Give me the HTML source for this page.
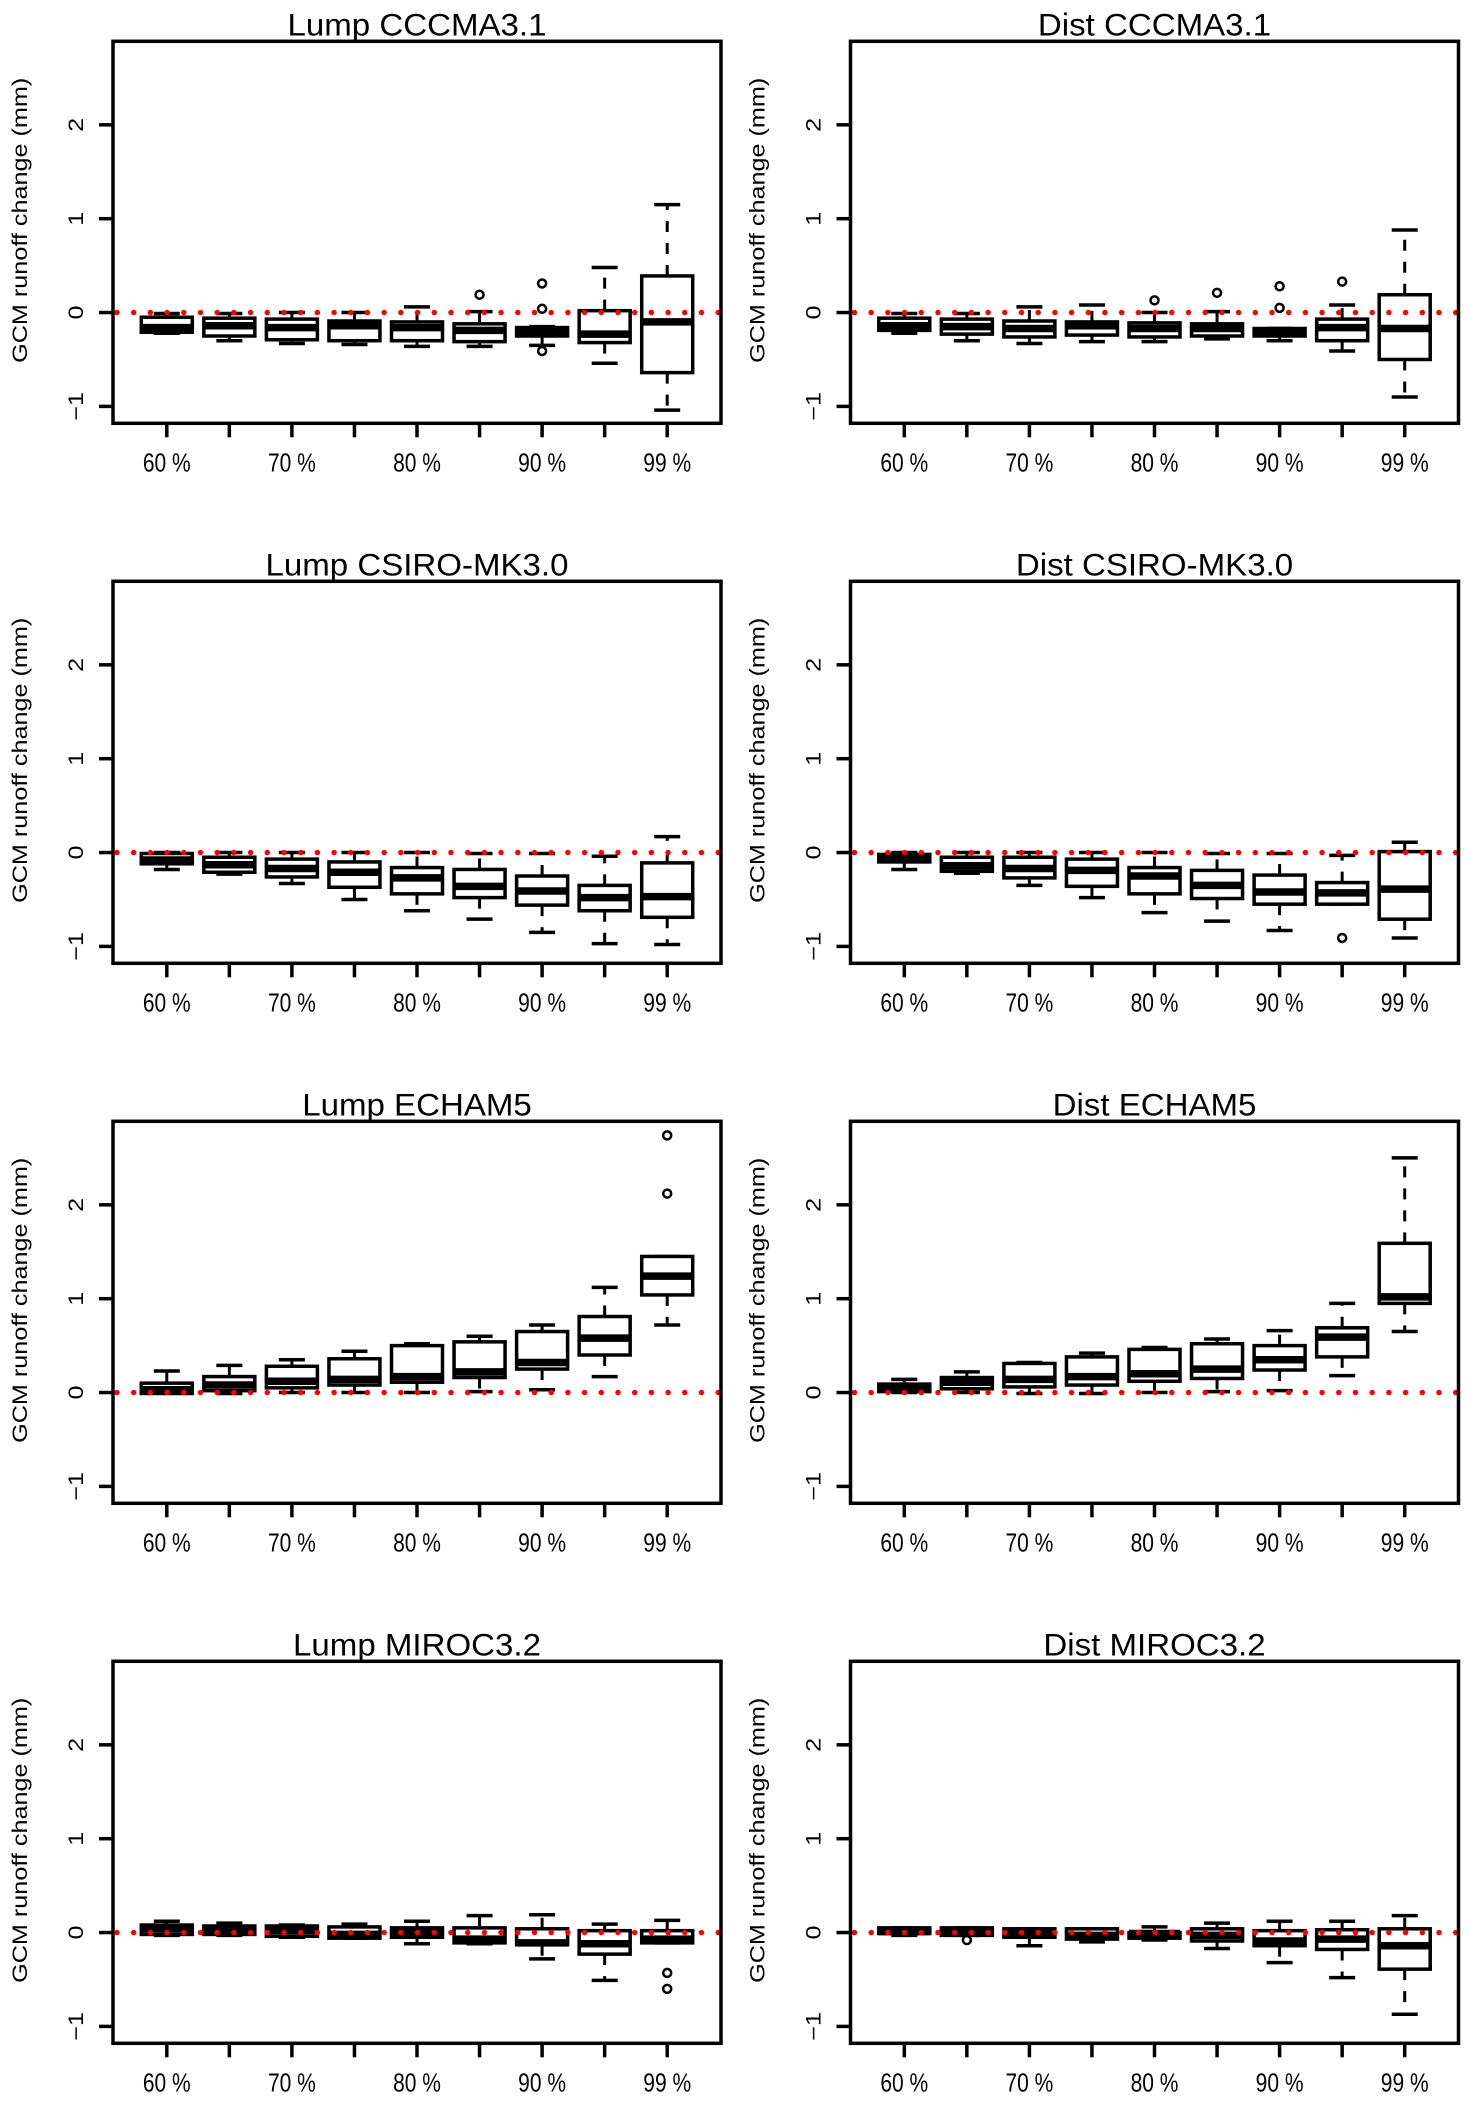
<!DOCTYPE html>
<html><head><meta charset="utf-8"><title>GCM runoff change boxplots</title>
<style>
html,body{margin:0;padding:0;background:#fff;}
svg{display:block;}
text{font-family:"Liberation Sans",Arial,sans-serif;fill:#000;}
</style></head>
<body>
<svg id="chart" xmlns="http://www.w3.org/2000/svg" width="1470" height="2104" viewBox="0 0 1470 2104"></svg>
<script>
const titles = ["Lump CCCMA3.1","Dist CCCMA3.1","Lump CSIRO-MK3.0","Dist CSIRO-MK3.0","Lump ECHAM5","Dist ECHAM5","Lump MIROC3.2","Dist MIROC3.2"];
const categories = [1,2,3,4,5,6,7,8,9];
const tickLabels = ["60 %","","70 %","","80 %","","90 %","","99 %"];
const yTicks = [-1,0,1,2];
const whiskerLow = [
 [-0.22,-0.30,-0.33,-0.34,-0.36,-0.36,-0.35,-0.54,-1.04],
 [-0.22,-0.30,-0.33,-0.31,-0.31,-0.28,-0.30,-0.41,-0.90],
 [-0.18,-0.23,-0.33,-0.50,-0.62,-0.71,-0.85,-0.97,-0.98],
 [-0.18,-0.22,-0.35,-0.48,-0.64,-0.73,-0.83,-0.55,-0.91],
 [0.00,-0.01,0.00,0.00,0.00,0.01,0.03,0.17,0.72],
 [0.00,0.00,-0.01,-0.01,0.00,0.01,0.02,0.18,0.65],
 [-0.03,-0.03,-0.05,-0.06,-0.12,-0.12,-0.28,-0.51,-0.11],
 [-0.03,-0.03,-0.14,-0.10,-0.08,-0.17,-0.32,-0.48,-0.87]
];
const boxQ1 = [
 [-0.21,-0.25,-0.29,-0.30,-0.30,-0.31,-0.25,-0.32,-0.64],
 [-0.19,-0.23,-0.26,-0.24,-0.26,-0.25,-0.25,-0.30,-0.50],
 [-0.12,-0.21,-0.26,-0.37,-0.44,-0.48,-0.56,-0.62,-0.69],
 [-0.10,-0.20,-0.27,-0.36,-0.44,-0.49,-0.55,-0.55,-0.71],
 [-0.01,0.02,0.05,0.08,0.11,0.16,0.25,0.40,1.04],
 [0.01,0.04,0.06,0.08,0.12,0.15,0.24,0.38,0.95],
 [-0.02,-0.02,-0.04,-0.06,-0.05,-0.11,-0.13,-0.23,-0.11],
 [-0.01,-0.03,-0.05,-0.07,-0.06,-0.09,-0.14,-0.18,-0.39]
];
const median = [
 [-0.16,-0.14,-0.16,-0.14,-0.16,-0.19,-0.21,-0.23,-0.10],
 [-0.14,-0.15,-0.17,-0.14,-0.17,-0.17,-0.22,-0.16,-0.17],
 [-0.08,-0.13,-0.17,-0.21,-0.27,-0.36,-0.41,-0.48,-0.47],
 [-0.07,-0.14,-0.17,-0.19,-0.25,-0.35,-0.42,-0.43,-0.39],
 [0.03,0.08,0.12,0.14,0.17,0.22,0.32,0.58,1.24],
 [0.05,0.11,0.14,0.17,0.20,0.25,0.35,0.59,1.02],
 [0.04,0.02,0.02,-0.02,0.00,-0.07,-0.11,-0.12,-0.07],
 [0.01,0.00,-0.01,-0.03,-0.01,-0.03,-0.09,-0.07,-0.14]
];
const boxQ3 = [
 [-0.05,-0.06,-0.07,-0.09,-0.10,-0.12,-0.16,0.02,0.39],
 [-0.06,-0.07,-0.09,-0.10,-0.11,-0.12,-0.17,-0.07,0.19],
 [-0.01,-0.05,-0.07,-0.10,-0.16,-0.18,-0.25,-0.35,-0.11],
 [-0.02,-0.05,-0.05,-0.07,-0.16,-0.19,-0.24,-0.32,0.01],
 [0.10,0.17,0.28,0.36,0.50,0.54,0.65,0.81,1.45],
 [0.09,0.16,0.31,0.38,0.46,0.52,0.50,0.69,1.59],
 [0.08,0.07,0.07,0.06,0.05,0.05,0.04,0.02,0.02],
 [0.05,0.05,0.04,0.04,0.00,0.04,0.02,0.03,0.04]
];
const whiskerHigh = [
 [-0.01,-0.01,0.00,0.00,0.06,0.01,-0.15,0.48,1.15],
 [-0.01,-0.01,0.06,0.08,0.00,0.01,-0.17,0.08,0.88],
 [0.00,0.00,0.00,0.00,0.00,-0.01,-0.01,-0.04,0.17],
 [0.00,0.00,0.00,0.00,0.00,-0.01,-0.01,-0.03,0.11],
 [0.23,0.29,0.35,0.44,0.52,0.60,0.72,1.12,1.45],
 [0.14,0.22,0.32,0.42,0.48,0.57,0.66,0.95,2.50],
 [0.12,0.10,0.08,0.09,0.12,0.18,0.19,0.09,0.13],
 [0.05,0.05,0.04,0.04,0.06,0.10,0.12,0.12,0.18]
];
// outliers: [boxIndex, value]
const outliers = [
 [[5,0.19],[6,0.31],[6,0.04],[6,-0.41]],
 [[4,0.13],[5,0.21],[6,0.28],[6,0.05],[7,0.33]],
 [],
 [[7,-0.91]],
 [[8,2.74],[8,2.12]],
 [],
 [[8,-0.43],[8,-0.60]],
 [[1,-0.08]]
];

const NS = "http://www.w3.org/2000/svg";
const svg = document.getElementById("chart");
const PLOT_W = 608, PLOT_H = 382, COL_X = [113, 850.5], ROW_Y = 41.3, ROW_STEP = 540;
const Y_MIN = -1.18, Y_MAX = 2.89, X_MIN = 0.14, X_MAX = 9.86;

function mk(tag, attrs, parent) {
  const e = document.createElementNS(NS, tag);
  for (const k in attrs) e.setAttribute(k, attrs[k]);
  parent.appendChild(e);
  return e;
}

titles.forEach((title, p) => {
  const left = COL_X[p % 2], top = ROW_Y + Math.floor(p / 2) * ROW_STEP;
  const xs = v => left + (v - X_MIN) / (X_MAX - X_MIN) * PLOT_W;
  const ys = v => top + (Y_MAX - v) / (Y_MAX - Y_MIN) * PLOT_H;
  const g = mk("g", {}, svg);
  
  

  const t = mk("text", {transform: `translate(${left + PLOT_W / 2},${top - 6}) scale(1.14,1.1)`, "text-anchor": "middle", "font-size": 29}, g);
  t.textContent = title;
  
  

  const yt = mk("text", {transform: `translate(${left - 86},${top + PLOT_H / 2 - 12}) rotate(-90) scale(1.2,1)`, "text-anchor": "middle", "font-size": 21}, g);
  yt.textContent = "GCM runoff change (mm)";
  
  

  yTicks.forEach(v => {
    const tk = mk("line", {x1: left - 14, x2: left, y1: ys(v), y2: ys(v), stroke: "#000", "stroke-width": 3.5}, g);
    
    
    const lb = mk("text", {transform: `translate(${left - 30},${ys(v)}) rotate(-90) scale(1.2,1)`, "text-anchor": "middle", "font-size": 21}, g);
    lb.textContent = v < 0 ? "\u2212" + Math.abs(v) : String(v);
    
    
  });

  categories.forEach((c, i) => {
    const cx = xs(c);
    const tk = mk("line", {x1: cx, x2: cx, y1: top + PLOT_H, y2: top + PLOT_H + 14, stroke: "#000", "stroke-width": 3.5}, g);
    
    
    if (tickLabels[i]) {
      const lb = mk("text", {transform: `translate(${cx},${top + PLOT_H + 48}) scale(1,1.25)`, "text-anchor": "middle", "font-size": 21}, g);
      lb.textContent = tickLabels[i];
      
      
    }
    const lo = whiskerLow[p][i], q1 = boxQ1[p][i], md = median[p][i], q3 = boxQ3[p][i], hi = whiskerHigh[p][i];
    const bg = mk("g", {}, g);
    
    
    mk("line", {x1: cx, x2: cx, y1: ys(q3), y2: ys(hi), stroke: "#000", "stroke-width": 3, "stroke-dasharray": "11 11"}, bg);
    mk("line", {x1: cx, x2: cx, y1: ys(q1), y2: ys(lo), stroke: "#000", "stroke-width": 3, "stroke-dasharray": "11 11"}, bg);
    mk("line", {x1: cx - 13, x2: cx + 13, y1: ys(hi), y2: ys(hi), stroke: "#000", "stroke-width": 3.5}, bg);
    mk("line", {x1: cx - 13, x2: cx + 13, y1: ys(lo), y2: ys(lo), stroke: "#000", "stroke-width": 3.5}, bg);
    mk("rect", {x: cx - 25.5, y: ys(q3), width: 51, height: Math.max(0.5, ys(q1) - ys(q3)), fill: "#fff", stroke: "#000", "stroke-width": 3.5}, bg);
    mk("line", {x1: cx - 25.5, x2: cx + 25.5, y1: ys(md), y2: ys(md), stroke: "#000", "stroke-width": 7.5}, bg);
  });

  outliers[p].forEach(o => {
    const c = mk("circle", {cx: xs(categories[o[0]]), cy: ys(o[1]), r: 4, fill: "none", stroke: "#000", "stroke-width": 2.5}, g);
    
    
  });

  const zl = mk("line", {x1: left + 4, x2: left + PLOT_W, y1: ys(0), y2: ys(0), stroke: "#ff0000", "stroke-width": 5.5, "stroke-linecap": "round", "stroke-dasharray": "0 16.7"}, g);
  
  

  const fr = mk("rect", {x: left, y: top, width: PLOT_W, height: PLOT_H, fill: "none", stroke: "#000", "stroke-width": 3.5}, g);
  
  
});
</script>
</body></html>
